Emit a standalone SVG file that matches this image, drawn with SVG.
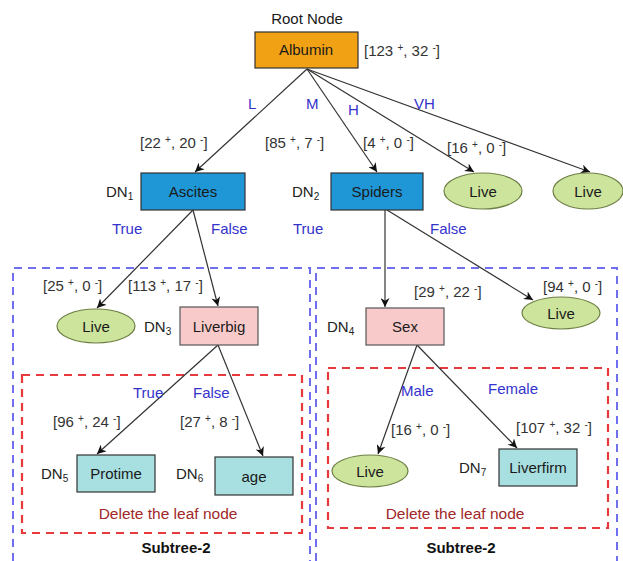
<svg xmlns="http://www.w3.org/2000/svg" width="623" height="561" viewBox="0 0 623 561">
<defs>
<marker id="ah" viewBox="0 0 10 10" refX="10" refY="5" markerWidth="9" markerHeight="9" markerUnits="userSpaceOnUse" orient="auto">
<path d="M0,0 L10,5 L0,10 L3,5 z" fill="#111"/>
</marker>
<style>
text{font-family:"Liberation Sans",Arial,sans-serif;font-size:15px;fill:#222}
.nl{text-anchor:middle;fill:#1a1a1a}
.br{fill:#333}
.lb{fill:#3333cc}
.dn{fill:#222}
.sub{font-size:10px}
.sup{font-size:10px}
.del{fill:#a02828;text-anchor:middle;font-size:15.5px}
.st{font-weight:bold;text-anchor:middle;fill:#111;font-size:15px}
.orange{fill:#f1a114;stroke:#333;stroke-width:1.2}
.blue{fill:#1f97d6;stroke:#333;stroke-width:1.2}
.pink{fill:#f9caca;stroke:#555;stroke-width:1.2}
.teal{fill:#a8dfe0;stroke:#333;stroke-width:1.2}
.live{fill:#cde49c;stroke:#6e7f45;stroke-width:1.2}
.edge{stroke:#333;stroke-width:1.2;fill:none;marker-end:url(#ah)}
.bbox{fill:none;stroke:#6f6ff0;stroke-width:2;stroke-dasharray:8,6}
.rbox{fill:none;stroke:#e8393c;stroke-width:2.2;stroke-dasharray:8,6}
</style>
</defs>

<g id="regions">
<path class="bbox" d="M13,561 V268 H310 V561"/>
<path class="bbox" d="M316,561 V268 H617 V561"/>
<rect class="rbox" x="22" y="375" width="280" height="158"/>
<rect class="rbox" x="328" y="368" width="280" height="160"/>
<text class="del" x="168" y="519">Delete the leaf node</text>
<text class="del" x="455" y="519">Delete the leaf node</text>
<text class="st" x="176" y="553">Subtree-2</text>
<text class="st" x="461" y="553">Subtree-2</text>
</g>

<g id="connectors">
<line class="edge" x1="307" y1="69" x2="195" y2="172"/>
<line class="edge" x1="307" y1="69" x2="377" y2="172"/>
<line class="edge" x1="307" y1="69" x2="474" y2="172"/>
<line class="edge" x1="307" y1="69" x2="590" y2="172"/>
<line class="edge" x1="193" y1="210" x2="97" y2="308"/>
<line class="edge" x1="193" y1="210" x2="218" y2="306"/>
<line class="edge" x1="385" y1="210" x2="385" y2="307"/>
<line class="edge" x1="387" y1="210" x2="533" y2="300"/>
<line class="edge" x1="218" y1="345" x2="97" y2="454"/>
<line class="edge" x1="218" y1="345" x2="263" y2="456"/>
<line class="edge" x1="417" y1="345" x2="378" y2="454"/>
<line class="edge" x1="417" y1="345" x2="517" y2="448"/>
<text class="lb" x="248" y="109">L</text>
<text class="lb" x="306" y="109">M</text>
<text class="lb" x="348" y="115">H</text>
<text class="lb" x="414" y="109">VH</text>
<text class="lb" x="112" y="234">True</text>
<text class="lb" x="211" y="234">False</text>
<text class="lb" x="293" y="234">True</text>
<text class="lb" x="430" y="234">False</text>
<text class="lb" x="133" y="398">True</text>
<text class="lb" x="193" y="398">False</text>
<text class="lb" x="401" y="396">Male</text>
<text class="lb" x="488" y="394">Female</text>
<text class="br" x="140" y="148">[22 <tspan class="sup" dy="-5">+</tspan><tspan dy="5">, 20 </tspan><tspan class="sup" dy="-5">-</tspan><tspan dy="5">]</tspan></text>
<text class="br" x="265" y="148">[85 <tspan class="sup" dy="-5">+</tspan><tspan dy="5">, 7 </tspan><tspan class="sup" dy="-5">-</tspan><tspan dy="5">]</tspan></text>
<text class="br" x="363" y="148">[4 <tspan class="sup" dy="-5">+</tspan><tspan dy="5">, 0 </tspan><tspan class="sup" dy="-5">-</tspan><tspan dy="5">]</tspan></text>
<text class="br" x="447" y="153">[16 <tspan class="sup" dy="-5">+</tspan><tspan dy="5">, 0 </tspan><tspan class="sup" dy="-5">-</tspan><tspan dy="5">]</tspan></text>
<text class="br" x="43" y="291">[25 <tspan class="sup" dy="-5">+</tspan><tspan dy="5">, 0 </tspan><tspan class="sup" dy="-5">-</tspan><tspan dy="5">]</tspan></text>
<text class="br" x="128" y="291">[113 <tspan class="sup" dy="-5">+</tspan><tspan dy="5">, 17 </tspan><tspan class="sup" dy="-5">-</tspan><tspan dy="5">]</tspan></text>
<text class="br" x="414" y="297">[29 <tspan class="sup" dy="-5">+</tspan><tspan dy="5">, 22 </tspan><tspan class="sup" dy="-5">-</tspan><tspan dy="5">]</tspan></text>
<text class="br" x="543" y="292">[94 <tspan class="sup" dy="-5">+</tspan><tspan dy="5">, 0 </tspan><tspan class="sup" dy="-5">-</tspan><tspan dy="5">]</tspan></text>
<text class="br" x="53" y="427">[96 <tspan class="sup" dy="-5">+</tspan><tspan dy="5">, 24 </tspan><tspan class="sup" dy="-5">-</tspan><tspan dy="5">]</tspan></text>
<text class="br" x="180" y="427">[27 <tspan class="sup" dy="-5">+</tspan><tspan dy="5">, 8 </tspan><tspan class="sup" dy="-5">-</tspan><tspan dy="5">]</tspan></text>
<text class="br" x="391" y="435">[16 <tspan class="sup" dy="-5">+</tspan><tspan dy="5">, 0 </tspan><tspan class="sup" dy="-5">-</tspan><tspan dy="5">]</tspan></text>
<text class="br" x="516" y="433">[107 <tspan class="sup" dy="-5">+</tspan><tspan dy="5">, 32 </tspan><tspan class="sup" dy="-5">-</tspan><tspan dy="5">]</tspan></text>
</g>

<g id="root">
<text class="nl" x="307" y="24">Root Node</text>
<rect class="orange" x="255" y="32" width="103" height="36"/>
<text class="nl" x="306" y="55">Albumin</text>
<text class="br" x="364" y="56">[123 <tspan class="sup" dy="-5">+</tspan><tspan dy="5">, 32 </tspan><tspan class="sup" dy="-5">-</tspan><tspan dy="5">]</tspan></text>
</g>

<g id="dn1">
<rect class="blue" x="141" y="173" width="104" height="37"/>
<text class="nl" x="193" y="197">Ascites</text>
<text class="dn" x="106" y="197">DN<tspan class="sub" dy="3">1</tspan></text>
</g>

<g id="dn2">
<rect class="blue" x="331" y="173" width="92" height="37"/>
<text class="nl" x="377" y="197">Spiders</text>
<text class="dn" x="292" y="197">DN<tspan class="sub" dy="3">2</tspan></text>
</g>

<g id="live-h">
<ellipse class="live" cx="483" cy="191" rx="39" ry="18"/>
<text class="nl" x="483" y="197">Live</text>
</g>

<g id="live-vh">
<ellipse class="live" cx="588" cy="191" rx="35" ry="18"/>
<text class="nl" x="588" y="197">Live</text>
</g>

<g id="live-dn1">
<ellipse class="live" cx="96" cy="326" rx="39" ry="17"/>
<text class="nl" x="96" y="332">Live</text>
</g>

<g id="dn3">
<rect class="pink" x="180" y="307" width="78" height="38"/>
<text class="nl" x="219" y="332">Liverbig</text>
<text class="dn" x="144" y="332">DN<tspan class="sub" dy="3">3</tspan></text>
</g>

<g id="dn4">
<rect class="pink" x="366" y="308" width="78" height="37"/>
<text class="nl" x="405" y="332">Sex</text>
<text class="dn" x="327" y="332">DN<tspan class="sub" dy="3">4</tspan></text>
</g>

<g id="live-dn2">
<ellipse class="live" cx="561" cy="313" rx="39" ry="16"/>
<text class="nl" x="561" y="319">Live</text>
</g>

<g id="dn5">
<rect class="teal" x="77" y="455" width="78" height="37"/>
<text class="nl" x="116" y="479">Protime</text>
<text class="dn" x="41" y="479">DN<tspan class="sub" dy="3">5</tspan></text>
</g>

<g id="dn6">
<rect class="teal" x="215" y="457" width="78" height="38"/>
<text class="nl" x="254" y="482">age</text>
<text class="dn" x="176" y="479">DN<tspan class="sub" dy="3">6</tspan></text>
</g>

<g id="live-male">
<ellipse class="live" cx="370" cy="471" rx="38" ry="16"/>
<text class="nl" x="370" y="477">Live</text>
</g>

<g id="dn7">
<rect class="teal" x="499" y="449" width="78" height="37"/>
<text class="nl" x="538" y="473">Liverfirm</text>
<text class="dn" x="459" y="473">DN<tspan class="sub" dy="3">7</tspan></text>
</g>
</svg>
